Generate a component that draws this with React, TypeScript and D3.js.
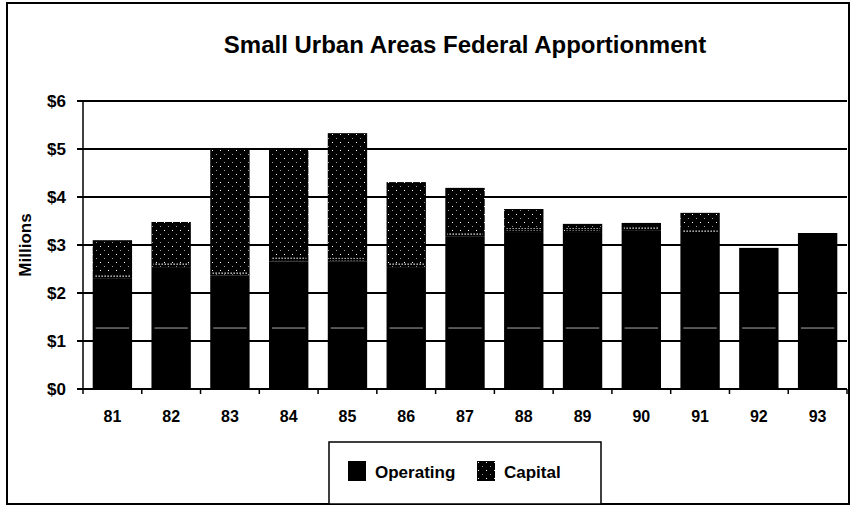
import React, { useEffect, useRef } from 'react';
import * as d3 from 'd3';

const years = ['81', '82', '83', '84', '85', '86', '87', '88', '89', '90', '91', '92', '93'];
const operating = [2.31, 2.54, 2.37, 2.66, 2.65, 2.54, 3.17, 3.27, 3.27, 3.31, 3.25, 2.94, 3.25];
const capital = [0.79, 0.94, 2.61, 2.36, 2.68, 1.77, 1.02, 0.48, 0.17, 0.15, 0.42, 0, 0];
const yTicks = [0, 1, 2, 3, 4, 5, 6];
const streakValue = 1.27; // faint light line running through the bars in the scan

const W = 854;
const H = 508;

const App = () => {
  const svgRef = useRef<SVGSVGElement>(null);

  useEffect(() => {
    const svg = d3.select(svgRef.current);
    svg.selectAll('*').remove();

    const margin = { top: 101, right: 7, bottom: 119, left: 83 };
    const chartWidth = W - margin.left - margin.right;
    const chartHeight = H - margin.top - margin.bottom;
    const font = 'Liberation Sans, Arial, sans-serif';

    // patterns for the capital stipple
    const defs = svg.append('defs');
    const pat = defs.append('pattern')
      .attr('id', 'stipple')
      .attr('width', 8)
      .attr('height', 8)
      .attr('patternUnits', 'userSpaceOnUse');
    pat.append('rect').attr('width', 8).attr('height', 8).attr('fill', '#000');
    pat.append('rect').attr('x', 1).attr('y', 1).attr('width', 1).attr('height', 1).attr('fill', '#fff');
    pat.append('rect').attr('x', 5).attr('y', 5).attr('width', 1).attr('height', 1).attr('fill', '#999');

    const dense = defs.append('pattern')
      .attr('id', 'dense')
      .attr('width', 3)
      .attr('height', 3)
      .attr('patternUnits', 'userSpaceOnUse');
    dense.append('rect').attr('width', 3).attr('height', 3).attr('fill', '#000');
    dense.append('rect').attr('x', 0.5).attr('y', 0.5).attr('width', 1.3).attr('height', 1.3).attr('fill', '#fff');

    // outer frame
    svg.append('rect')
      .attr('x', 7)
      .attr('y', 3)
      .attr('width', 842)
      .attr('height', 501)
      .attr('fill', 'none')
      .attr('stroke', '#000')
      .attr('stroke-width', 2);

    svg.append('text')
      .attr('x', 465)
      .attr('y', 53)
      .attr('text-anchor', 'middle')
      .style('font-family', font)
      .style('font-size', '24px')
      .style('font-weight', 'bold')
      .text('Small Urban Areas Federal Apportionment');

    const g = svg.append('g')
      .attr('transform', `translate(${margin.left}, ${margin.top})`);

    const xScale = d3.scaleBand()
      .domain(years)
      .range([0, chartWidth])
      .paddingInner(0.33)
      .paddingOuter(0.165);

    const yScale = d3.scaleLinear()
      .domain([0, 6])
      .range([chartHeight, 0]);

    // grid lines
    g.selectAll('.grid')
      .data(yTicks)
      .enter()
      .append('line')
      .attr('x1', -6)
      .attr('x2', chartWidth)
      .attr('y1', d => yScale(d))
      .attr('y2', d => yScale(d))
      .attr('stroke', '#000')
      .attr('stroke-width', 2);

    // left axis line
    g.append('line')
      .attr('x1', 0).attr('x2', 0)
      .attr('y1', 0).attr('y2', chartHeight)
      .attr('stroke', '#000')
      .attr('stroke-width', 1.5);

    g.selectAll('.ylab')
      .data(yTicks)
      .enter()
      .append('text')
      .attr('x', -17)
      .attr('y', d => yScale(d))
      .attr('dy', '0.36em')
      .attr('text-anchor', 'end')
      .style('font-family', font)
      .style('font-size', '17px')
      .style('font-weight', 'bold')
      .text(d => `$${d}`);

    // x ticks at band boundaries
    const step = xScale.step();
    g.selectAll('.xtick')
      .data(d3.range(years.length + 1))
      .enter()
      .append('line')
      .attr('x1', i => i * step)
      .attr('x2', i => i * step)
      .attr('y1', chartHeight)
      .attr('y2', chartHeight + 5)
      .attr('stroke', '#000')
      .attr('stroke-width', 1.5);

    // bars
    const bars = g.selectAll('.bar')
      .data(years)
      .enter()
      .append('g');

    bars.append('rect')
      .attr('x', d => xScale(d)!)
      .attr('width', xScale.bandwidth())
      .attr('y', (d, i) => yScale(operating[i]))
      .attr('height', (d, i) => chartHeight - yScale(operating[i]))
      .attr('fill', '#000');

    bars.filter((d, i) => capital[i] > 0)
      .append('rect')
      .attr('x', d => xScale(d)!)
      .attr('width', xScale.bandwidth())
      .attr('y', (d, i) => yScale(operating[i] + capital[i]))
      .attr('height', (d, i) => yScale(operating[i]) - yScale(operating[i] + capital[i]))
      .attr('fill', 'url(#stipple)');

    bars.filter((d, i) => capital[i] > 0)
      .append('rect')
      .attr('x', d => xScale(d)! + 2)
      .attr('width', xScale.bandwidth() - 4)
      .attr('y', (d, i) => yScale(operating[i]) - 4)
      .attr('height', 3)
      .attr('fill', 'url(#dense)');

    bars.append('line')
      .attr('x1', d => xScale(d)! + 3)
      .attr('x2', d => xScale(d)! + xScale.bandwidth() - 3)
      .attr('y1', yScale(streakValue))
      .attr('y2', yScale(streakValue))
      .attr('stroke', '#aaa')
      .attr('stroke-width', 1);

    g.selectAll('.xlab')
      .data(years)
      .enter()
      .append('text')
      .attr('x', d => xScale(d)! + xScale.bandwidth() / 2)
      .attr('y', chartHeight + 33)
      .attr('text-anchor', 'middle')
      .style('font-family', font)
      .style('font-size', '16px')
      .style('font-weight', 'bold')
      .text(d => d);

    svg.append('text')
      .attr('transform', `translate(31, ${margin.top + chartHeight / 2}) rotate(-90)`)
      .attr('text-anchor', 'middle')
      .style('font-family', font)
      .style('font-size', '17px')
      .style('font-weight', 'bold')
      .text('Millions');

    // legend
    const legend = svg.append('g').attr('transform', 'translate(329, 442)');
    legend.append('rect')
      .attr('width', 272)
      .attr('height', 62)
      .attr('fill', '#fff')
      .attr('stroke', '#000')
      .attr('stroke-width', 1.5);

    const items = [
      { label: 'Operating', fill: '#000', x: 19 },
      { label: 'Capital', fill: 'url(#stipple)', x: 148 }
    ];
    const li = legend.selectAll('.li')
      .data(items)
      .enter()
      .append('g')
      .attr('transform', d => `translate(${d.x}, 19)`);
    li.append('rect')
      .attr('width', 18)
      .attr('height', 20)
      .attr('fill', d => d.fill);
    li.append('text')
      .attr('x', 27)
      .attr('y', 17)
      .style('font-family', font)
      .style('font-size', '17px')
      .style('font-weight', 'bold')
      .text(d => d.label);
  }, []);

  return (
    <svg
      ref={svgRef}
      width={W}
      height={H}
      style={{ position: 'absolute', left: 0, top: 0, background: '#fff' }}
    />
  );
};

export default App;
